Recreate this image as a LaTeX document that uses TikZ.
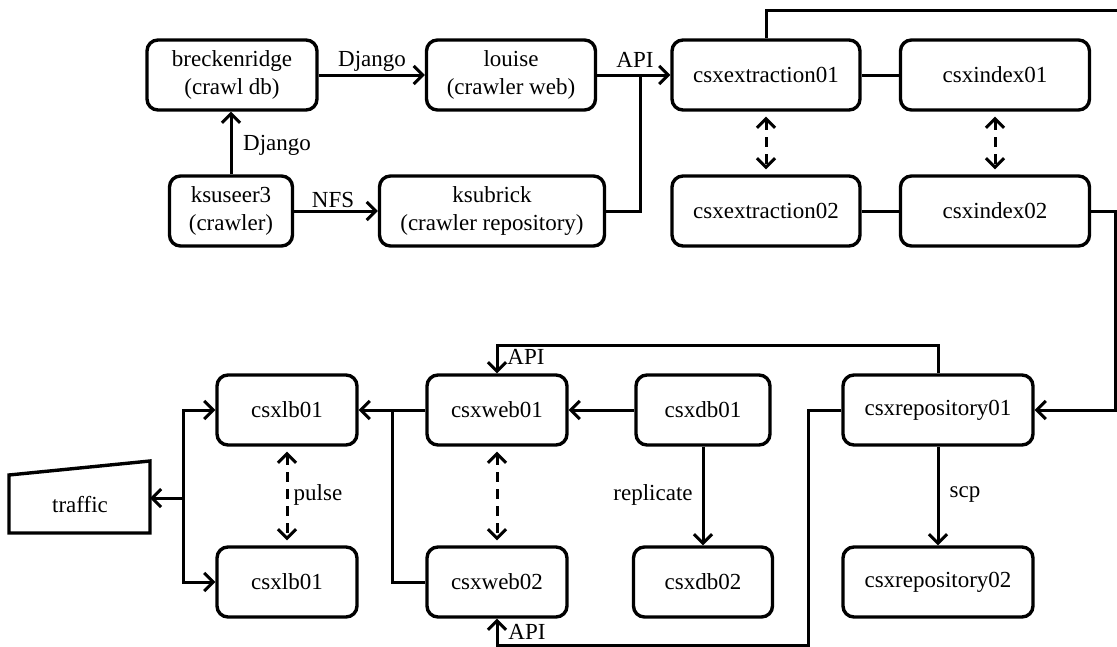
\documentclass[tikz,border=0pt]{standalone}
\usepackage{fontspec}
\setmainfont{Liberation Serif}
\usetikzlibrary{arrows.meta}

\tikzset{
  box/.style={draw, line width=3.4pt, rounded corners=11pt, align=center,
    minimum height=70pt, inner sep=0pt},
  link/.style={line width=3pt},
  arr/.style={link, -{Straight Barb[length=9pt,width=18pt]}},
  dbl/.style={link, {Straight Barb[length=9pt,width=18pt]}-{Straight Barb[length=9pt,width=18pt]},
    dash pattern=on 10pt off 7pt, shorten <=5pt, shorten >=5pt},
}

\begin{document}
\begin{tikzpicture}[x=1pt,y=-1pt, every node/.style={font=\fontsize{23}{28}\selectfont}]
  \useasboundingbox (0,0) rectangle (1117,646);

  \node[box, minimum width=170pt] (breck) at (232,75) {breckenridge\\(crawl db)};
  \node[box, minimum width=169pt] (louise) at (511,75) {louise\\(crawler web)};
  \node[box, minimum width=123pt] (ksuseer) at (231,211) {ksuseer3\\(crawler)};
  \node[box, minimum width=225pt] (ksubrick) at (492,211) {ksubrick\\(crawler repository)};
  \node[box, minimum width=188pt] (ext1) at (766,75) {csxextraction01};
  \node[box, minimum width=189pt] (idx1) at (995,75) {csxindex01};
  \node[box, minimum width=188pt] (ext2) at (766,211) {csxextraction02};
  \node[box, minimum width=189pt] (idx2) at (995,211) {csxindex02};

  \node[box, minimum width=140pt] (lb1) at (287,410) {csxlb01};
  \node[box, minimum width=140pt] (lb2) at (287,582) {csxlb01};
  \node[box, minimum width=140pt] (web1) at (497,410) {csxweb01};
  \node[box, minimum width=140pt] (web2) at (497,582) {csxweb02};
  \node[box, minimum width=134pt] (db1) at (703,410) {csxdb01};
  \node[box, minimum width=139pt] (db2) at (703,582) {csxdb02};
  \node[box, minimum width=190pt] (rep1) at (938,410) {csxrepository01};
  \node[box, minimum width=190pt] (rep2) at (938,582) {csxrepository02};

  \draw[line width=3.4pt] (9,475) -- (150,461) -- (150,533) -- (9,533) -- cycle;
  \node (traffic) at (80,505) {traffic};

  \coordinate (apijoin) at (640,75);
  \coordinate (topend) at (1117,10);
  \coordinate (rbus) at (1115,211);
  \coordinate (apitop) at (938,345);
  \coordinate (apibot) at (808,645);
  \coordinate (webjoin) at (392,410);
  \coordinate (tsplit) at (183,498);
  \coordinate (trafin) at (150,498);

  \draw[arr] (breck.east) -- (louise.west);
  \draw[arr] (ksuseer.north) -- (ksuseer.north |- breck.south);
  \draw[arr] (ksuseer.east) -- (ksuseer.east -| ksubrick.west);
  \draw[arr] (louise.east) -- (ext1.west);
  \draw[link] (ksubrick.east) -| (apijoin);
  \draw[link] (ext1.east) -- (idx1.west);
  \draw[link] (ext2.east) -- (idx2.west);
  \draw[dbl] (ext1.south) -- (ext2.north);
  \draw[dbl] (idx1.south) -- (idx2.north);
  \draw[link] (ext1.north) |- (topend);
  \draw[arr] (idx2.east) -- (rbus) |- (rep1.east);

  \draw[arr] (rep1.north) -- (apitop) -| (web1.north);
  \draw[arr] (rep1.west) -| (apibot) -| (web2.south);
  \draw[arr] (db1.west) -- (web1.east);
  \draw[arr] (db1.south) -- (db2.north);
  \draw[arr] (rep1.south) -- (rep2.north);
  \draw[arr] (web1.west) -- (lb1.east);
  \draw[link] (web2.west) -| (webjoin);
  \draw[dbl] (lb1.south) -- (lb2.north);
  \draw[dbl] (web1.south) -- (web2.north);
  \draw[arr] (tsplit) -- (trafin);
  \draw[arr] (tsplit) |- (lb1.west);
  \draw[arr] (tsplit) |- (lb2.west);

  \node (djangoh) at (372,61) {Django};
  \node (djangov) at (277,145) {Django};
  \node (nfs) at (333,200) {NFS};
  \node (api1) at (635,60) {API};
  \node (api2) at (526,357) {API};
  \node (api3) at (527,632) {API};
  \node (pulse) at (318,495) {pulse};
  \node (repl) at (653,495) {replicate};
  \node (scp) at (965,495) {scp};
\end{tikzpicture}
\end{document}
